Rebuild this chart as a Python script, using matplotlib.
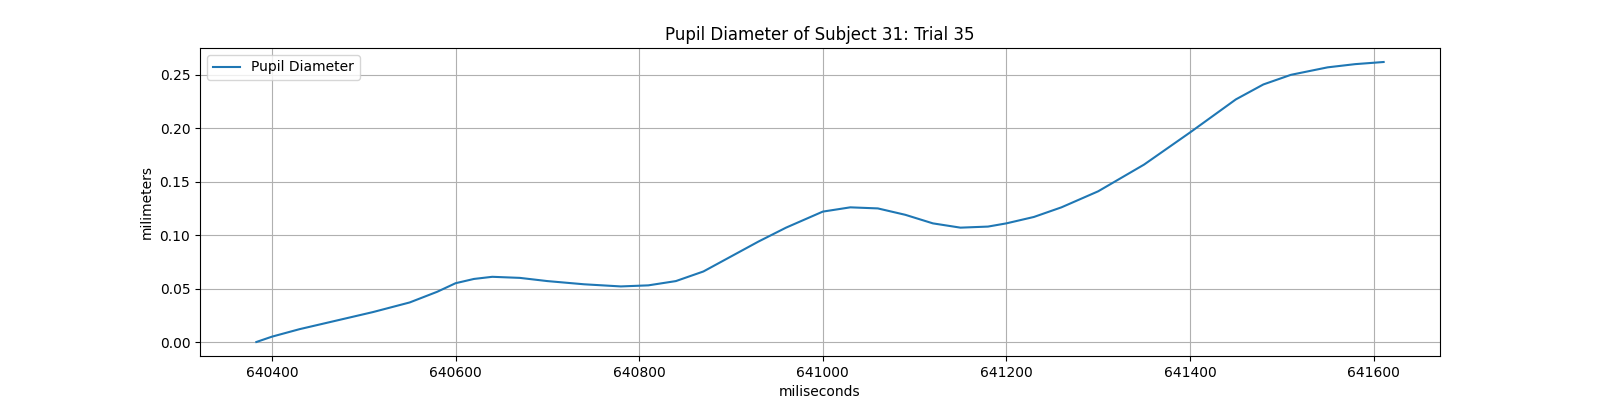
import matplotlib
matplotlib.use("Agg")
import matplotlib.pyplot as plt

# values
time_ms = [640383, 640400, 640430, 640470, 640510, 640550, 640580, 640600, 640620,
           640640, 640670, 640700, 640740, 640780, 640810, 640840, 640870, 640900,
           640930, 640960, 641000, 641030, 641060, 641090, 641120, 641150, 641180,
           641200, 641230, 641260, 641300, 641350, 641400, 641450, 641480, 641510,
           641550, 641580, 641611]
pupil_mm = [0.000, 0.005, 0.012, 0.020, 0.028, 0.037, 0.047, 0.055, 0.059,
            0.061, 0.060, 0.057, 0.054, 0.052, 0.053, 0.057, 0.066, 0.080,
            0.094, 0.107, 0.122, 0.126, 0.125, 0.119, 0.111, 0.107, 0.108,
            0.111, 0.117, 0.126, 0.141, 0.166, 0.196, 0.227, 0.241, 0.250,
            0.257, 0.260, 0.262]

fig, ax = plt.subplots(figsize=(16, 4), dpi=100)
ax.plot(time_ms, pupil_mm, label="Pupil Diameter")
ax.set_title("Pupil Diameter of Subject 31: Trial 35")
ax.set_xlabel("miliseconds")
ax.set_ylabel("milimeters")
ax.ticklabel_format(useOffset=False, style="plain", axis="x")
ax.grid(True)
ax.legend(loc="upper left")
fig.savefig("out.png")
